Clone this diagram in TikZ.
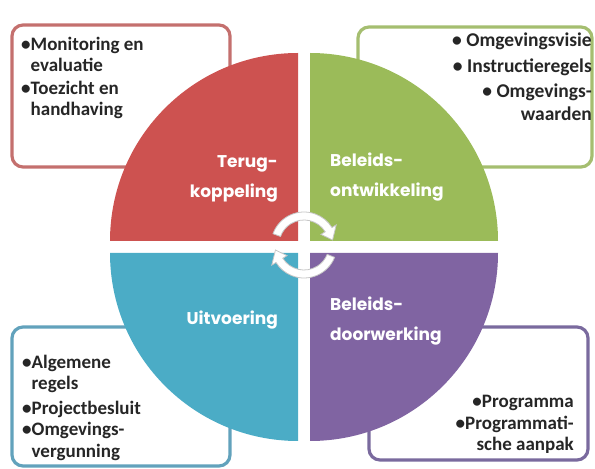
\documentclass[tikz,border=0pt]{standalone}
\usepackage{fontspec}
\usepackage{xcolor}
\usepackage{tikz}
\newfontfamily\boxfont{Carlito}
\newfontfamily\quadfont{Poppins}
\definecolor{quadRed}{RGB}{205,82,80}
\definecolor{quadGreen}{RGB}{155,187,89}
\definecolor{quadBlue}{RGB}{75,172,198}
\definecolor{quadPurple}{RGB}{128,100,162}
\definecolor{lineRed}{RGB}{196,112,110}
\definecolor{lineGreen}{RGB}{165,190,112}
\definecolor{lineBlue}{RGB}{98,162,188}
\definecolor{linePurple}{RGB}{122,106,158}

\begin{document}
\begin{tikzpicture}[x=1pt,y=1pt,
    infobox/.style={line width=3.2pt,rounded corners=11pt,fill=white},
    infotext/.style={inner sep=0pt,text=black!85,
        font=\boxfont\bfseries\fontsize{19}{21.5}\selectfont},
    quadtext/.style={inner sep=0pt,text=white,
        font=\quadfont\bfseries\fontsize{17}{30}\selectfont},
    cyclearrow/.style={fill=white,draw=gray!45,line width=0.8pt}]
\useasboundingbox (0,0) rectangle (595,469);

    % kaders achter de cirkel
    \draw[infobox,draw=lineRed]    (12,302) rectangle (230,444);
    \draw[infobox,draw=lineGreen]  (358,302) rectangle (592,442);
    \draw[infobox,draw=lineBlue]   (12,3) rectangle (230,142);
    \draw[infobox,draw=linePurple] (369,9) rectangle (588,142);

    % vier kwartcirkels
    \fill[quadRed]    (298,228) -- ++(-188,0) arc(180:90:188) -- cycle;
    \fill[quadGreen]  (310,228) -- ++(0,188) arc(90:0:188) -- cycle;
    \fill[quadBlue]   (298,216) -- ++(0,-188) arc(270:180:188) -- cycle;
    \fill[quadPurple] (310,216) -- ++(188,0) arc(0:-90:188) -- cycle;

    \node[quadtext,anchor=east,align=right] (terug) at (278,290) {Terug-\\koppeling};
    \node[quadtext,anchor=west,align=left] (ontw) at (330,292) {Beleids-\\ontwikkeling};
    \node[quadtext,anchor=east] (uitv) at (278,149) {Uitvoering};
    \node[quadtext,anchor=west,align=left] (doorw) at (330,148) {Beleids-\\doorwerking};

    % kringloop in het midden
    \begin{scope}[shift={(304,224)}]
    \draw[cyclearrow] (160:33) arc(160:32:33) -- (32:38) -- (10:29)
        -- (32:20) -- (32:25) arc(32:160:25) -- cycle;
    \draw[cyclearrow] (-22:33) arc(-22:-148:33) -- (-148:38) -- (-170:29)
        -- (-148:20) -- (-148:25) arc(-148:-22:25) -- cycle;
    \end{scope}

    \node[infotext,anchor=north west] (terugtxt) at (21,434)
        {\begin{tabular}{@{}l@{}l@{}}
         •&Monitoring en\\ &evaluatie\\[1pt]
         •&Toezicht en\\ &handhaving
         \end{tabular}};
    \node[infotext,anchor=north east,align=right,
          font=\boxfont\bfseries\fontsize{19.5}{22.5}\selectfont] (ontwtxt) at (592,436)
        {• Omgevingsvisie\\[3pt] • Instructieregels\\[3pt]
         • Omgevings-\\waarden};
    \node[infotext,anchor=north west] (uitvtxt) at (22,116)
        {\begin{tabular}{@{}l@{}l@{}}
         •&Algemene\\ &regels\\[3pt]
         •&Projectbesluit\\
         •&Omgevings-\\ &vergunning
         \end{tabular}};
    \node[infotext,anchor=north east,align=right] (doorwtxt) at (574,74)
        {•Programma\\ •Programmati-\\sche aanpak};

\end{tikzpicture}
\end{document}
